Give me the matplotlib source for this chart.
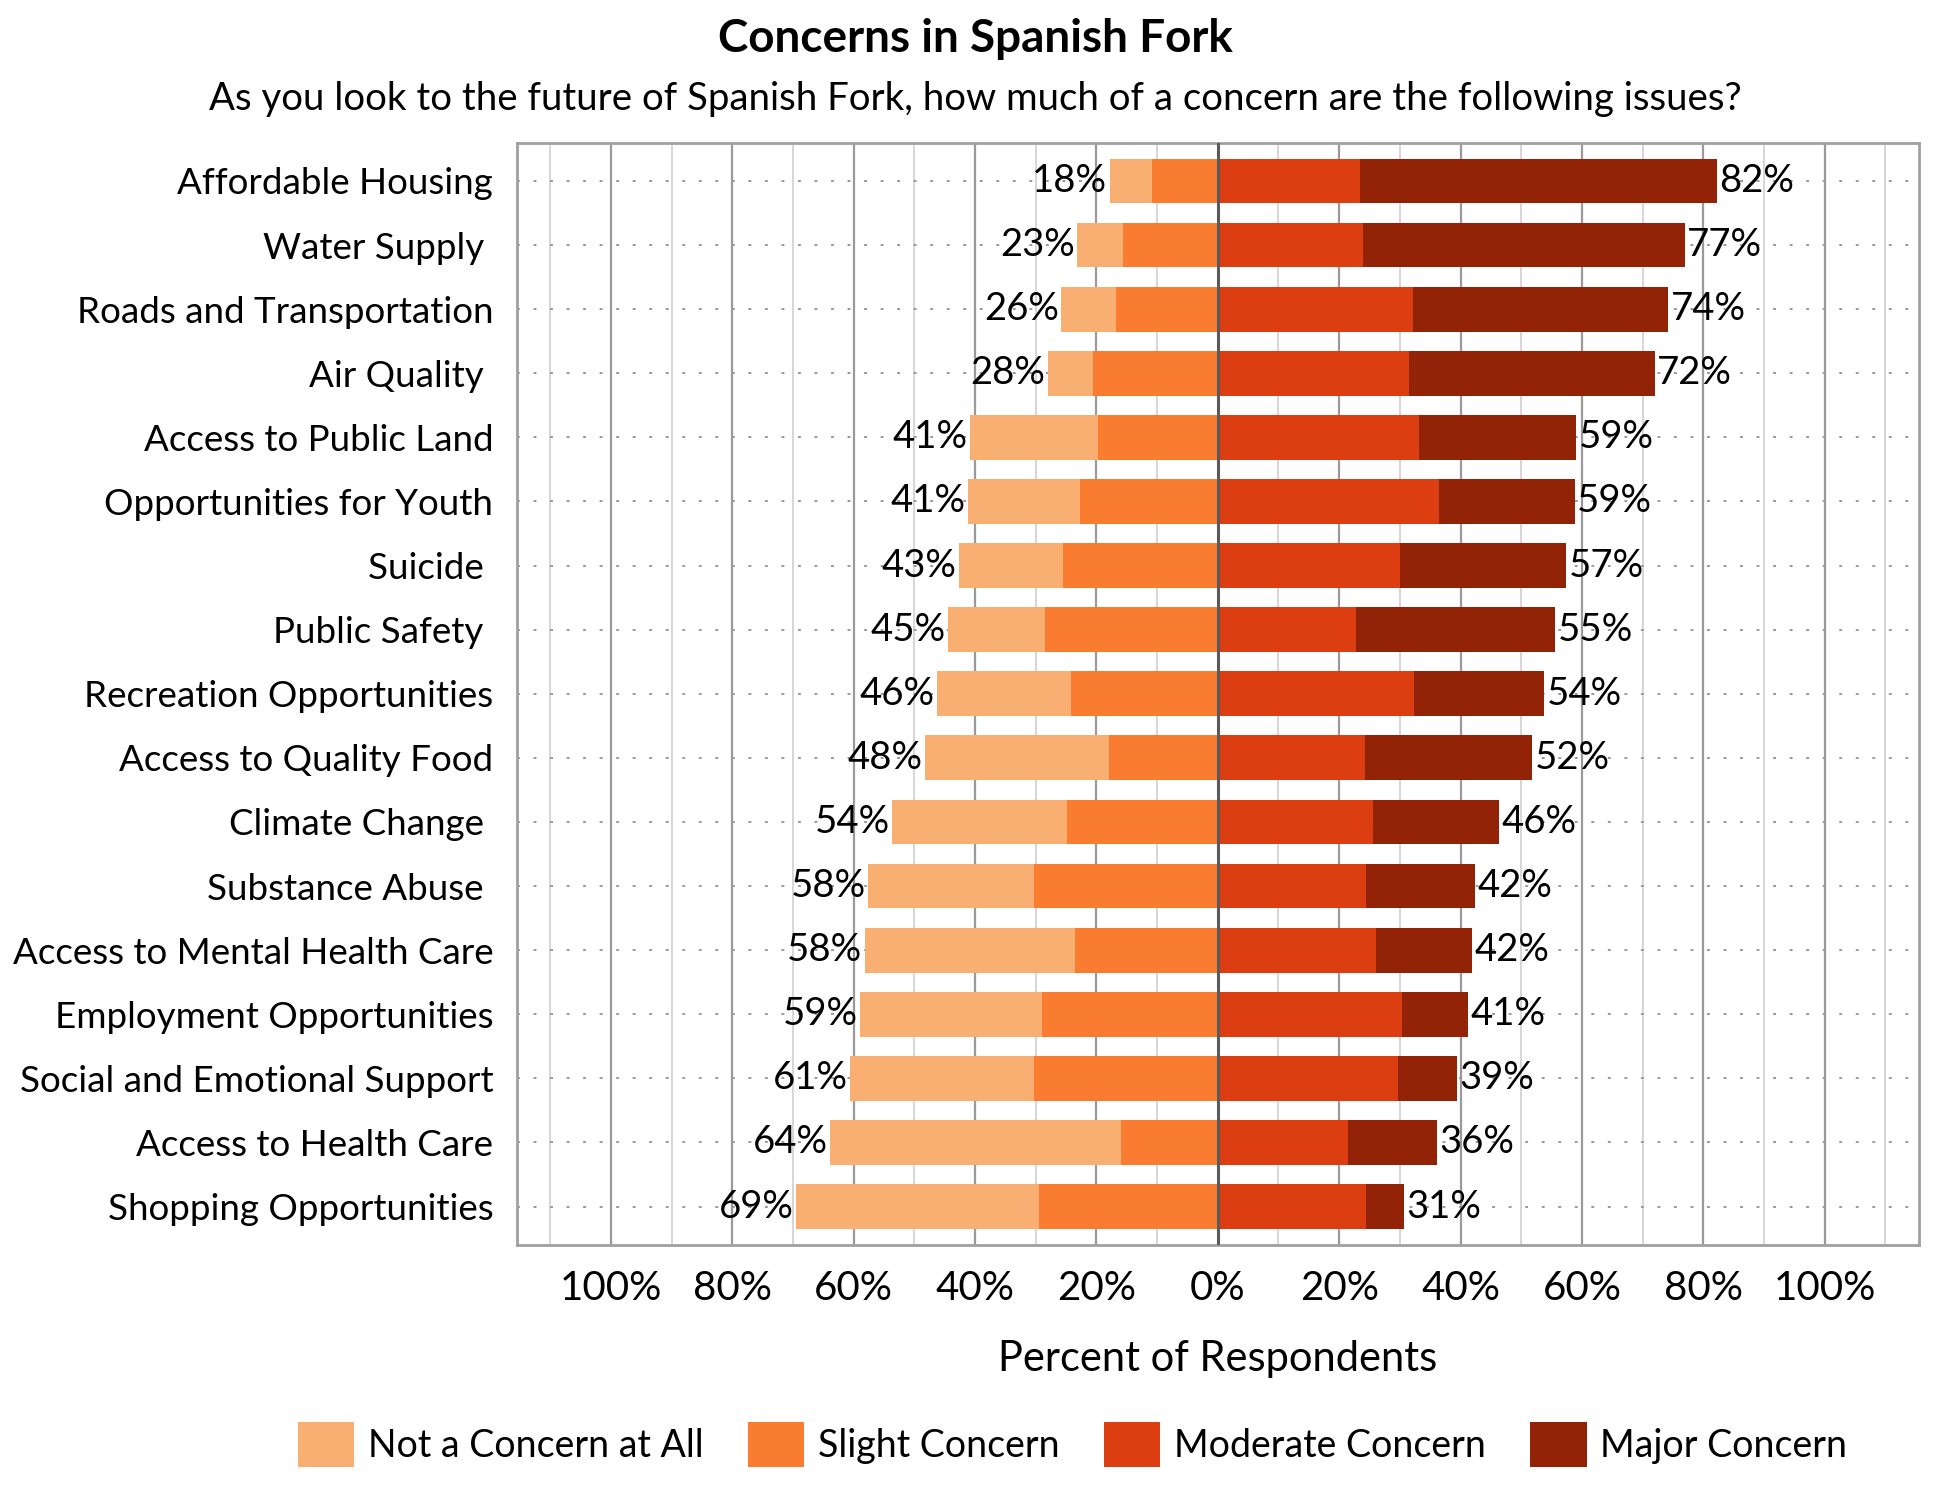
import matplotlib
matplotlib.use('agg')
import matplotlib.pyplot as plt
from matplotlib.patches import Patch
import numpy as np

plt.rcParams['font.family'] = ['Lato', 'DejaVu Sans']

# categories, top to bottom
issues = ["Affordable Housing", "Water Supply ", "Roads and Transportation", "Air Quality ",
          "Access to Public Land", "Opportunities for Youth", "Suicide ", "Public Safety ",
          "Recreation Opportunities", "Access to Quality Food", "Climate Change ",
          "Substance Abuse ", "Access to Mental Health Care", "Employment Opportunities",
          "Social and Emotional Support", "Access to Health Care", "Shopping Opportunities"]

# percent of respondents per answer
not_concern = [7.0, 7.6, 9.0, 7.5, 21.1, 18.5, 17.1, 15.9, 22.0, 30.2, 28.8, 27.3, 34.6, 30.0, 30.3, 48.0, 40.1]
slight      = [10.8, 15.6, 16.8, 20.5, 19.8, 22.7, 25.5, 28.5, 24.2, 18.0, 24.8, 30.3, 23.6, 28.9, 30.3, 15.9, 29.4]
moderate    = [23.5, 23.9, 32.1, 31.5, 33.2, 36.5, 30.0, 22.7, 32.3, 24.2, 25.6, 24.4, 26.0, 30.3, 29.7, 21.4, 24.4]
major       = [58.7, 53.0, 42.1, 40.5, 25.9, 22.3, 27.4, 32.9, 21.5, 27.6, 20.8, 18.0, 15.9, 10.9, 9.7, 14.7, 6.2]

left_totals = [18, 23, 26, 28, 41, 41, 43, 45, 46, 48, 54, 58, 58, 59, 61, 64, 69]
right_totals = [82, 77, 74, 72, 59, 59, 57, 55, 54, 52, 46, 42, 42, 41, 39, 36, 31]

legend_names = ["Not a Concern at All", "Slight Concern", "Moderate Concern", "Major Concern"]
colors = ["#F9AF72", "#F97C31", "#DC3E11", "#922306"]

not_concern = np.array(not_concern)
slight = np.array(slight)
moderate = np.array(moderate)
major = np.array(major)
y = np.arange(len(issues))

fig = plt.figure(figsize=(19.5, 15), dpi=100)
ax = fig.add_axes([0.265, 0.17, 0.719, 0.735])

# grid
for v in range(-110, 120, 10):
    if v == 0:
        continue
    if v % 20 == 0:
        ax.axvline(v, color="#9A9A9A", lw=1.6, zorder=0)
    else:
        ax.axvline(v, color="#CFCFCF", lw=1.2, zorder=0)
for yy in y:
    ax.axhline(yy, color="#9A9A9A", lw=1.4, ls=(0, (1.5, 7)), zorder=0.5)

h = 0.70
ax.barh(y, -slight, height=h, color=colors[1], zorder=2)
ax.barh(y, -not_concern, left=-slight, height=h, color=colors[0], zorder=2)
ax.barh(y, moderate, height=h, color=colors[2], zorder=2)
ax.barh(y, major, left=moderate, height=h, color=colors[3], zorder=2)
ax.axvline(0, color="#5A5A5A", lw=2.2, zorder=3)

fs = 26.5
for i in range(len(issues)):
    lx = -(slight[i] + not_concern[i])
    rx = moderate[i] + major[i]
    ax.text(lx - 0.4, y[i], f"{left_totals[i]}%", ha="right", va="center", fontsize=27.5, zorder=4)
    ax.text(rx + 0.4, y[i], f"{right_totals[i]}%", ha="left", va="center", fontsize=27.5, zorder=4)

ax.set_xlim(-115.5, 115.5)
ax.set_ylim(len(issues) - 0.4, -0.6)
ax.set_yticks(y)
ax.set_yticklabels(issues, fontsize=fs)
ticks = list(range(-100, 101, 20))
ax.set_xticks(ticks)
ax.set_xticklabels([f"{abs(t)}%" for t in ticks], fontsize=29)
ax.tick_params(length=0, pad=17, axis="y")
ax.tick_params(length=0, pad=18, axis="x")
for s in ax.spines.values():
    s.set_color("#A0A0A0")
    s.set_linewidth(2)
ax.set_xlabel("Percent of Respondents", fontsize=30, labelpad=24)

fig.text(0.5, 0.974, "Concerns in Spanish Fork", ha="center", va="center", fontsize=33, fontweight="bold")
fig.text(0.5, 0.934, "As you look to the future of Spanish Fork, how much of a concern are the following issues?",
         ha="center", va="center", fontsize=27.6)

handles = [Patch(facecolor=c, edgecolor="none") for c in colors]
fig.legend(handles, legend_names, loc="center", bbox_to_anchor=(0.55, 0.037), ncol=4, frameon=False,
           fontsize=27, handlelength=1.5, handleheight=1.5, handletextpad=0.35, columnspacing=1.2)

fig.savefig("out.png", dpi=100)
